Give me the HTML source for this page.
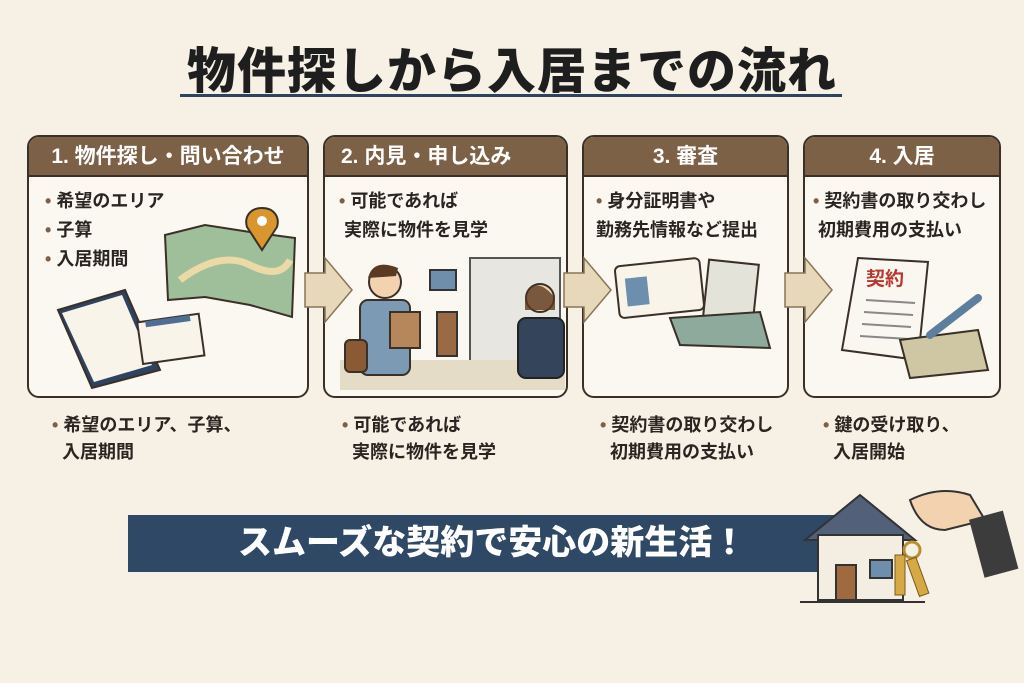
<!DOCTYPE html>
<html><head><meta charset="utf-8"><style>
*{margin:0;padding:0;box-sizing:border-box}
body{width:1024px;height:683px;background:#f6f0e5;position:relative;overflow:hidden;font-family:"Liberation Sans","Noto Sans CJK JP",sans-serif;color:#2a2520}
.a{position:absolute}
.title{left:0;width:1024px;top:32px;text-align:center;font-size:49px;font-weight:900;letter-spacing:1px;color:#1e1e1e}
.ul{left:180px;top:94px;width:662px;height:3px;background:#2e4360}
.box{border:2.5px solid #3a3027;border-radius:12px;background:#fbf8f1;overflow:hidden}
.hd{background:#7c6146;color:#fff;font-weight:700;font-size:21px;height:40px;line-height:40px;text-align:center;border-bottom:2px solid #3a3027}
.tx{font-size:18px;font-weight:700;line-height:29px;color:#2a2520}
.bt{font-size:18px;font-weight:700;line-height:27px}
.dot{color:#7c6146}
.banner{left:128px;top:515px;width:708px;height:57px;background:#2e4866;color:#fff;font-size:34px;font-weight:900;line-height:57px;padding-left:110px}
</style></head><body>
<div class="a title">物件探しから入居までの流れ</div>
<div class="a ul"></div>

<div class="a box" style="left:27px;top:135px;width:282px;height:263px"><div class="hd">1. 物件探し・問い合わせ</div>
<div class="tx" style="padding:10px 0 0 16px"><span class="dot">•</span> 希望のエリア<br><span class="dot">•</span> 子算<br><span class="dot">•</span> 入居期間</div></div>
<div class="a box" style="left:323px;top:135px;width:245px;height:263px"><div class="hd" style="text-align:left;padding-left:16px">2. 内見・申し込み</div>
<div class="tx" style="padding:10px 0 0 14px"><span class="dot">•</span> 可能であれば<br>&nbsp;実際に物件を見学</div></div>
<div class="a box" style="left:582px;top:135px;width:207px;height:263px"><div class="hd">3. 審査</div>
<div class="tx" style="padding:10px 0 0 12px"><span class="dot">•</span> 身分証明書や<br>勤務先情報など提出</div></div>
<div class="a box" style="left:803px;top:135px;width:198px;height:263px"><div class="hd">4. 入居</div>
<div class="tx" style="padding:10px 0 0 8px"><span class="dot">•</span> 契約書の取り交わし<br>&nbsp;初期費用の支払い</div></div>

<svg class="a" style="left:0;top:0" width="1024" height="683">
<!-- arrows -->
<polygon points="305,273 325,273 325,258 352,290 325,322 325,307 305,307" fill="#e6d8b8" stroke="#8a7458" stroke-width="1.5"/>
<polygon points="564,273 584,273 584,258 611,290 584,322 584,307 564,307" fill="#e6d8b8" stroke="#8a7458" stroke-width="1.5"/>
<polygon points="785,273 805,273 805,258 832,290 805,322 805,307 785,307" fill="#e6d8b8" stroke="#8a7458" stroke-width="1.5"/>
<!-- map -->
<polygon points="165,235 205,225 250,232 295,238 292,317 250,305 205,297 168,300" fill="#9fbf9a" stroke="#3a3027" stroke-width="2"/>
<path d="M180,280 Q220,250 250,265 T290,260" stroke="#ecd9a8" stroke-width="7" fill="none"/>
<path d="M262,208 c-12,0 -18,9 -15,19 l15,23 l15,-23 c3,-10 -3,-19 -15,-19z" fill="#d9962f" stroke="#3a3027" stroke-width="2"/>
<circle cx="262" cy="221" r="5" fill="#fff"/>
<!-- clipboard -->
<polygon points="58,310 125,290 160,370 92,388" fill="#2e4360" stroke="#3a3027" stroke-width="2"/>
<polygon points="62,313 122,295 152,365 94,382" fill="#f8f4ea"/>
<rect x="140" y="318" width="62" height="42" fill="#f8f4ea" stroke="#3a3027" stroke-width="2" transform="rotate(-8 170 340)"/>
<rect x="148" y="318" width="45" height="6" fill="#4d6f94" transform="rotate(-8 170 340)"/>
<!-- building -->
<rect x="470" y="258" width="90" height="112" fill="#e8e6e0" stroke="#555" stroke-width="2"/>
<rect x="430" y="270" width="26" height="20" fill="#6d8fad" stroke="#333" stroke-width="2"/>
<rect x="437" y="312" width="20" height="44" fill="#9a6a45" stroke="#333" stroke-width="2"/>
<rect x="340" y="360" width="225" height="30" fill="#e5dcc7"/>
<circle cx="385" cy="282" r="16" fill="#f3d2b0" stroke="#3a3027" stroke-width="2"/>
<path d="M368,278 q5,-20 30,-10 l-2,8 z" fill="#5a3a22"/>
<rect x="360" y="300" width="50" height="75" rx="8" fill="#7d9ab5" stroke="#3a3027" stroke-width="2"/>
<rect x="345" y="340" width="22" height="32" rx="5" fill="#8a5a35" stroke="#3a3027" stroke-width="2"/>
<rect x="390" y="312" width="30" height="36" fill="#b5875a" stroke="#3a3027" stroke-width="2"/>
<circle cx="540" cy="298" r="14" fill="#f3d2b0" stroke="#3a3027" stroke-width="2"/>
<path d="M525,298 q10,-25 30,0 l0,12 l-30,0 z" fill="#5a3a22" opacity=".8"/>
<rect x="518" y="318" width="46" height="60" rx="8" fill="#34445a" stroke="#222" stroke-width="2"/>
<!-- id card -->
<rect x="705" y="262" width="50" height="80" fill="#e4e3da" stroke="#3a3027" stroke-width="2" transform="rotate(6 730 300)"/>
<polygon points="670,318 760,312 770,348 680,345" fill="#8eaa9c" stroke="#3a3027" stroke-width="2"/>
<rect x="617" y="262" width="85" height="52" rx="5" fill="#f8f4ea" stroke="#3a3027" stroke-width="2" transform="rotate(-6 660 288)"/>
<rect x="626" y="275" width="22" height="28" fill="#6d8fad" transform="rotate(-6 660 288)"/>
<!-- contract -->
<polygon points="858,258 928,262 918,360 842,350" fill="#faf7f0" stroke="#3a3027" stroke-width="2"/>
<text x="866" y="285" font-size="19" font-weight="700" fill="#b8362e" font-family="Liberation Sans,Noto Sans CJK JP,sans-serif">契約</text>
<g stroke="#888" stroke-width="2"><line x1="866" y1="300" x2="915" y2="303"/><line x1="864" y1="312" x2="913" y2="315"/><line x1="862" y1="324" x2="911" y2="327"/><line x1="860" y1="336" x2="909" y2="339"/></g>
<polygon points="900,340 978,330 988,370 910,378" fill="#cfc7a4" stroke="#3a3027" stroke-width="2"/>
<line x1="930" y1="335" x2="978" y2="298" stroke="#5d7e9c" stroke-width="8" stroke-linecap="round"/>
</svg>

<div class="a bt" style="left:52px;top:412px"><span class="dot">•</span> 希望のエリア、子算、<br>&nbsp;&nbsp;入居期間</div>
<div class="a bt" style="left:342px;top:412px"><span class="dot">•</span> 可能であれば<br>&nbsp;&nbsp;実際に物件を見学</div>
<div class="a bt" style="left:600px;top:412px"><span class="dot">•</span> 契約書の取り交わし<br>&nbsp;&nbsp;初期費用の支払い</div>
<div class="a bt" style="left:823px;top:412px"><span class="dot">•</span> 鍵の受け取り、<br>&nbsp;&nbsp;入居開始</div>

<div class="a banner">スムーズな契約で安心の新生活！</div>
<svg class="a" style="left:800px;top:480px" width="224" height="130">
<polygon points="5,60 60,15 115,60" fill="#52607a" stroke="#333" stroke-width="2"/>
<rect x="18" y="55" width="85" height="65" fill="#f4eee2" stroke="#333" stroke-width="2"/>
<rect x="36" y="85" width="20" height="35" fill="#a06a40" stroke="#333" stroke-width="2"/>
<rect x="70" y="80" width="22" height="18" fill="#6d8fad" stroke="#333" stroke-width="2"/>
<line x1="0" y1="122" x2="125" y2="122" stroke="#333" stroke-width="2"/>
<path d="M110,20 q30,-15 60,-5 l15,25 l-40,10 q-25,0 -35,-30z" fill="#f3d2b0" stroke="#333" stroke-width="2"/>
<rect x="175" y="35" width="35" height="60" fill="#3c3c3c" transform="rotate(-15 190 60)"/>
<circle cx="112" cy="70" r="8" fill="none" stroke="#b9902f" stroke-width="3"/>
<rect x="95" y="75" width="10" height="40" fill="#d5aa45" stroke="#7a5a20" stroke-width="1"/>
<rect x="112" y="78" width="10" height="38" fill="#d5aa45" stroke="#7a5a20" stroke-width="1" transform="rotate(-20 117 95)"/>
</svg>
</body></html>
